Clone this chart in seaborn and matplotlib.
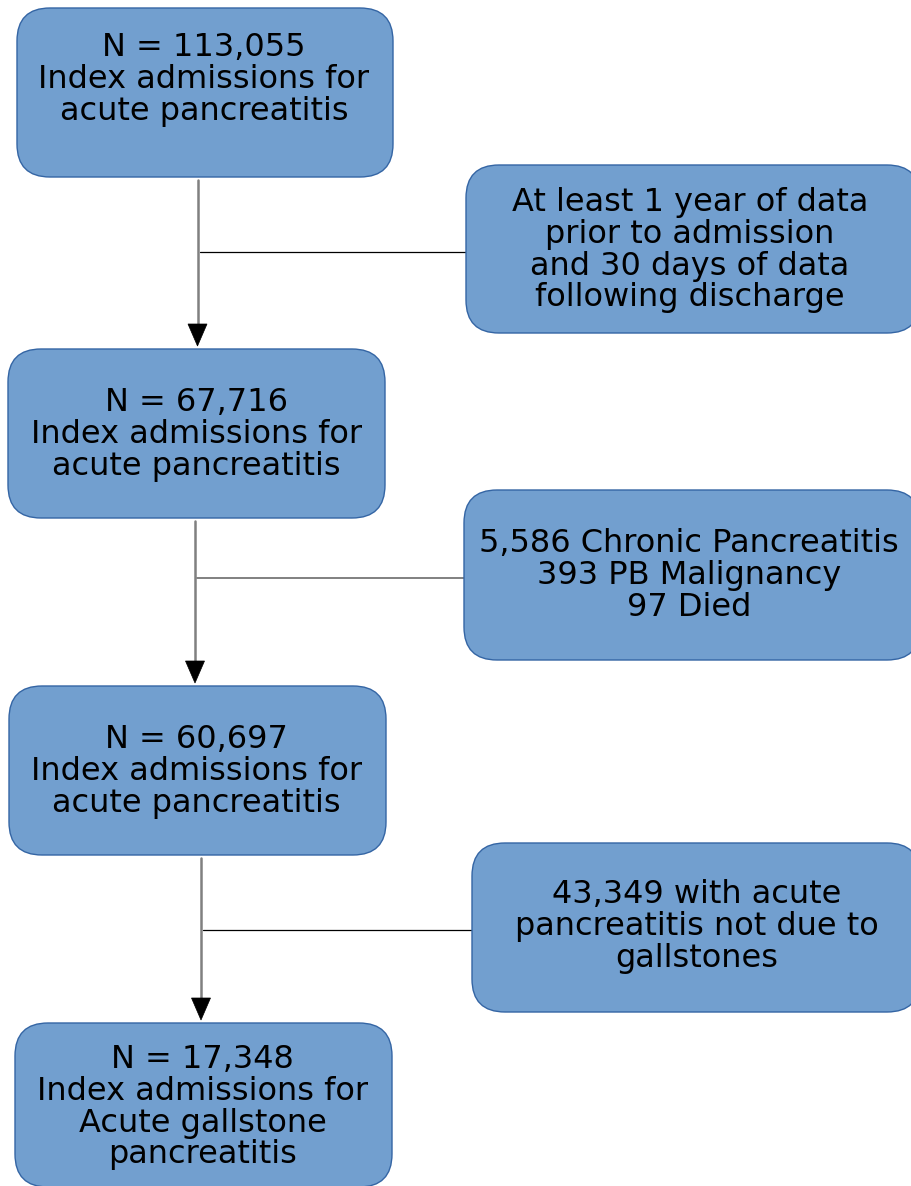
import matplotlib
matplotlib.use("Agg")
import matplotlib.pyplot as plt
import seaborn as sns
from matplotlib.patches import FancyBboxPatch, Polygon

# Flowchart of cohort selection
sns.set_theme(style="white")
plt.rcParams['font.family'] = ['DejaVu Sans']

# Counts in the main boxes
main_counts = [113055, 67716, 60697, 17348]
main_labels = [
    ["Index admissions for", "acute pancreatitis"],
    ["Index admissions for", "acute pancreatitis"],
    ["Index admissions for", "acute pancreatitis"],
    ["Index admissions for", "Acute gallstone", "pancreatitis"],
]

# Exclusion boxes
excluded_chronic = 5586
excluded_malignancy = 393
excluded_died = 97
excluded_not_gallstone = 43349
side_labels = [
    ["At least 1 year of data", "prior to admission",
     "and 30 days of data", "following discharge"],
    [f"{excluded_chronic:,} Chronic Pancreatitis",
     f"{excluded_malignancy} PB Malignancy",
     f"{excluded_died} Died"],
    [f"{excluded_not_gallstone:,} with acute",
     "pancreatitis not due to", "gallstones"],
]

# Layout in pixels (x0, y0, x1, y1), first text baseline
main_boxes = [(17, 8, 393, 177), (8, 349, 385, 518),
              (9, 686, 386, 855), (15, 1023, 392, 1187)]
main_text_x = [204, 196.5, 196.5, 202.5]
main_base = [56, 411, 748, 1068]
side_boxes = [(466, 165, 920, 333), (464, 490, 920, 660),
              (472, 843, 920, 1012)]
side_text_x = [690, 689, 696.5]
side_base = [211, 552, 903]
arrow_x = [197.5, 195, 201]
branch_y = [252, 578, 930]
branch_col = ['black', 'grey', 'black']
branch_lw = [0.9, 1.4, 0.9]

fill = '#729fcf'
edge = '#3465a4'
line_gap = 31.8
fs = 23

fig = plt.figure(figsize=(9.11, 11.86), dpi=100)
ax = fig.add_axes([0, 0, 1, 1])
ax.set_xlim(0, 911)
ax.set_ylim(1186, 0)
ax.axis('off')


def draw_box(box, lines, cx, base):
    x0, y0, x1, y1 = box
    ax.add_patch(FancyBboxPatch((x0, y0), x1 - x0, y1 - y0,
                                boxstyle="round,pad=0,rounding_size=33",
                                fc=fill, ec=edge, lw=1.0, zorder=2))
    for i, s in enumerate(lines):
        ax.text(cx, base + i * line_gap, s, ha='center', va='baseline',
                fontsize=fs, color='black', zorder=3)


for i, n in enumerate(main_counts):
    lines = [f"N = {n:,}"] + main_labels[i]
    draw_box(main_boxes[i], lines, main_text_x[i], main_base[i])

for i, lines in enumerate(side_labels):
    draw_box(side_boxes[i], lines, side_text_x[i], side_base[i])

# Connectors and arrows
for i in range(3):
    top = main_boxes[i][3] + 3
    tip = main_boxes[i + 1][1] - 3
    x = arrow_x[i]
    ax.plot([x, x], [top, tip - 20], color='#808080', lw=1.8, zorder=1)
    ax.add_patch(Polygon([(x - 9.5, tip - 22), (x + 9.5, tip - 22), (x, tip)],
                         closed=True, fc='black', ec='black', lw=0.5, zorder=1))
    ax.plot([x + 2, side_boxes[i][0]], [branch_y[i], branch_y[i]],
            color=branch_col[i], lw=branch_lw[i], zorder=1)

fig.savefig('out.png', dpi=100)
